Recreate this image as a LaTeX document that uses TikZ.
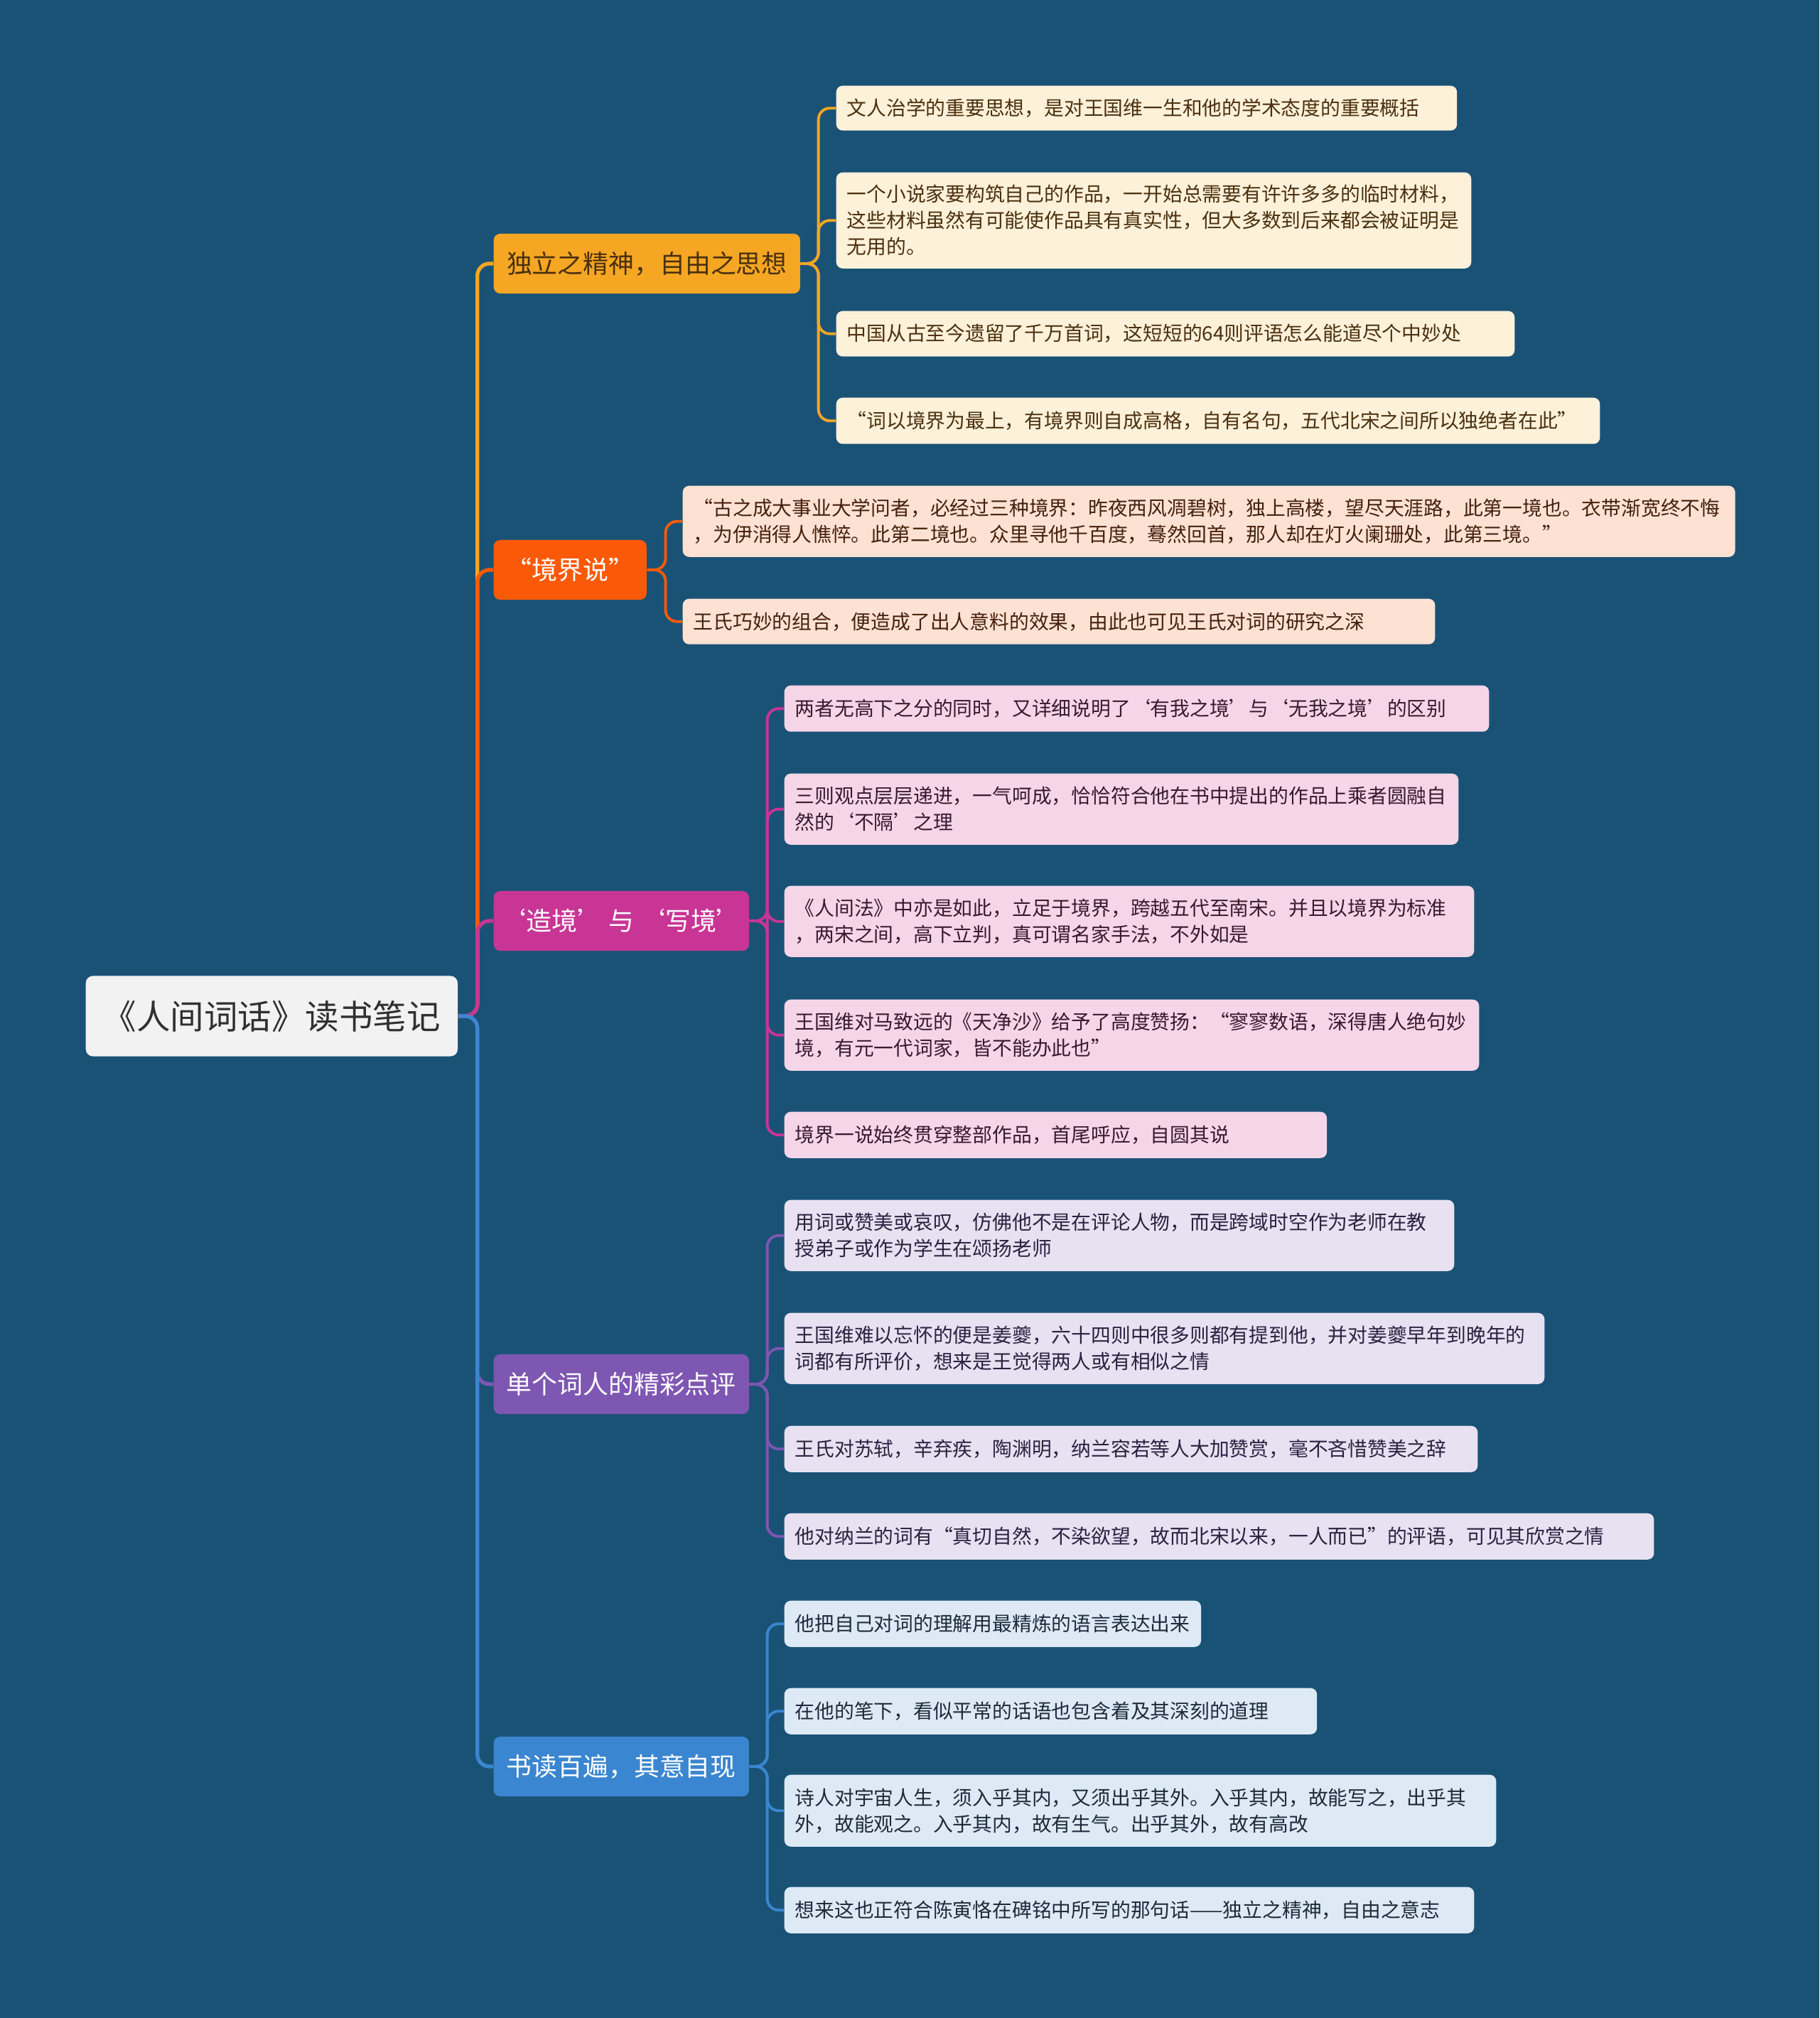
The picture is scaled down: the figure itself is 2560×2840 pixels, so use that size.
\documentclass[tikz,border=0pt]{standalone}
\usepackage{fontspec}
\setmainfont{Noto Sans CJK SC}
\usepackage{tikz}
\definecolor{MapBg}{HTML}{1A5276}
\definecolor{RootFill}{HTML}{F2F2F2}
\definecolor{RootText}{HTML}{303030}
\definecolor{SpiritCol}{HTML}{F5A623}
\definecolor{RealmCol}{HTML}{FA5A08}
\definecolor{CraftCol}{HTML}{C83595}
\definecolor{PoetsCol}{HTML}{7E57B2}
\definecolor{ReadCol}{HTML}{3A86D0}
\definecolor{SpiritLeaf}{HTML}{FEF1DA}
\definecolor{RealmLeaf}{HTML}{FDE2D4}
\definecolor{CraftLeaf}{HTML}{F5D6E9}
\definecolor{PoetsLeaf}{HTML}{E7E1F1}
\definecolor{ReadLeaf}{HTML}{DDEAF6}
\definecolor{SpiritText}{HTML}{4A300E}
\definecolor{RealmText}{HTML}{45200C}
\definecolor{CraftText}{HTML}{3A1830}
\definecolor{PoetsText}{HTML}{2A2240}
\definecolor{ReadText}{HTML}{1C2A3A}

\begin{document}
\begin{tikzpicture}[x=0.01cm,y=-0.01cm,
  rootbox/.style={anchor=west,fill=RootFill,text=RootText,rounded corners=0.1cm,
    minimum width=5.23cm,minimum height=1.13cm,font=\fontsize{13.5pt}{16pt}\selectfont},
  topic/.style={anchor=west,rounded corners=0.09cm,minimum height=0.84cm,inner xsep=0pt,
    font=\fontsize{10.2pt}{12pt}\selectfont},
  leaf/.style={anchor=north west,align=left,rounded corners=0.09cm,inner xsep=0.15cm,
    inner ysep=0pt,font=\fontsize{7.9pt}{10.5pt}\selectfont},
  spiritleaf/.style={leaf,fill=SpiritLeaf,text=SpiritText},
  realmleaf/.style={leaf,fill=RealmLeaf,text=RealmText},
  craftleaf/.style={leaf,fill=CraftLeaf,text=CraftText},
  poetsleaf/.style={leaf,fill=PoetsLeaf,text=PoetsText},
  readleaf/.style={leaf,fill=ReadLeaf,text=ReadText},
  link/.style={rounded corners=0.17cm,line width=1.5pt},
  twig/.style={rounded corners=0.16cm,line width=1.1pt}]
\path[use as bounding box] (0,0) rectangle (2560,2840);
\fill[MapBg] (0,0) rectangle (2560,2840);

% root and main topics
\node[rootbox] (root) at (120,1430) {《人间词话》读书笔记};
\node[topic,fill=SpiritCol,text=SpiritText,minimum width=4.31cm] (spirit) at (694,371) {独立之精神，自由之思想};
\node[topic,fill=RealmCol,text=white,minimum width=2.15cm] (realm) at (694,802) {“境界说”};
\node[topic,fill=CraftCol,text=white,minimum width=3.59cm] (craft) at (694,1296) {‘造境’ 与 ‘写境’};
\node[topic,fill=PoetsCol,text=white,minimum width=3.59cm] (poets) at (694,1948) {单个词人的精彩点评};
\node[topic,fill=ReadCol,text=white,minimum width=3.59cm] (reading) at (694,2486) {书读百遍，其意自现};

% leaves
\node[spiritleaf,text width=8.43cm,minimum height=0.63cm] (spirit1) at (1176,120) {文人治学的重要思想，是对王国维一生和他的学术态度的重要概括};
\node[spiritleaf,text width=8.63cm,minimum height=1.35cm] (spirit2) at (1176,242) {一个小说家要构筑自己的作品，一开始总需要有许许多多的临时材料，\\这些材料虽然有可能使作品具有真实性，但大多数到后来都会被证明是\\无用的。};
\node[spiritleaf,text width=9.24cm,minimum height=0.64cm] (spirit3) at (1176,437) {中国从古至今遗留了千万首词，这短短的64则评语怎么能道尽个中妙处};
\node[spiritleaf,text width=10.44cm,minimum height=0.65cm] (spirit4) at (1176,559) {“词以境界为最上，有境界则自成高格，自有名句，五代北宋之间所以独绝者在此”};

\node[realmleaf,text width=14.50cm,minimum height=1.00cm] (realm1) at (960,683) {“古之成大事业大学问者，必经过三种境界：昨夜西风凋碧树，独上高楼，望尽天涯路，此第一境也。衣带渐宽终不悔\\，为伊消得人憔悴。此第二境也。众里寻他千百度，蓦然回首，那人却在灯火阑珊处，此第三境。”};
\node[realmleaf,text width=10.28cm,minimum height=0.64cm] (realm2) at (960,842) {王氏巧妙的组合，便造成了出人意料的效果，由此也可见王氏对词的研究之深};

\node[craftleaf,text width=9.61cm,minimum height=0.65cm] (craft1) at (1103,964) {两者无高下之分的同时，又详细说明了‘有我之境’与‘无我之境’的区别};
\node[craftleaf,text width=9.18cm,minimum height=1.00cm] (craft2) at (1103,1088) {三则观点层层递进，一气呵成，恰恰符合他在书中提出的作品上乘者圆融自\\然的‘不隔’之理};
\node[craftleaf,text width=9.40cm,minimum height=1.00cm] (craft3) at (1103,1246) {《人间法》中亦是如此，立足于境界，跨越五代至南宋。并且以境界为标准\\，两宋之间，高下立判，真可谓名家手法，不外如是};
\node[craftleaf,text width=9.47cm,minimum height=1.00cm] (craft4) at (1103,1406) {王国维对马致远的《天净沙》给予了高度赞扬：“寥寥数语，深得唐人绝句妙\\境，有元一代词家，皆不能办此也”};
\node[craftleaf,text width=7.33cm,minimum height=0.65cm] (craft5) at (1103,1564) {境界一说始终贯穿整部作品，首尾呼应，自圆其说};

\node[poetsleaf,text width=9.12cm,minimum height=1.00cm] (poets1) at (1103,1688) {用词或赞美或哀叹，仿佛他不是在评论人物，而是跨域时空作为老师在教\\授弟子或作为学生在颂扬老师};
\node[poetsleaf,text width=10.39cm,minimum height=1.00cm] (poets2) at (1103,1847) {王国维难以忘怀的便是姜夔，六十四则中很多则都有提到他，并对姜夔早年到晚年的\\词都有所评价，想来是王觉得两人或有相似之情};
\node[poetsleaf,text width=9.45cm,minimum height=0.65cm] (poets3) at (1103,2006) {王氏对苏轼，辛弃疾，陶渊明，纳兰容若等人大加赞赏，毫不吝惜赞美之辞};
\node[poetsleaf,text width=11.93cm,minimum height=0.65cm] (poets4) at (1103,2129) {他对纳兰的词有“真切自然，不染欲望，故而北宋以来，一人而已”的评语，可见其欣赏之情};

\node[readleaf,text width=5.56cm,minimum height=0.65cm] (reading1) at (1103,2252) {他把自己对词的理解用最精炼的语言表达出来};
\node[readleaf,text width=7.19cm,minimum height=0.65cm] (reading2) at (1103,2375) {在他的笔下，看似平常的话语也包含着及其深刻的道理};
\node[readleaf,text width=9.71cm,minimum height=1.01cm] (reading3) at (1103,2497) {诗人对宇宙人生，须入乎其内，又须出乎其外。入乎其内，故能写之，出乎其\\外，故能观之。入乎其内，故有生气。出乎其外，故有高改};
\node[readleaf,text width=9.40cm,minimum height=0.65cm] (reading4) at (1103,2655) {想来这也正符合陈寅恪在碑铭中所写的那句话——独立之精神，自由之意志};

% root to topics
\draw[link,SpiritCol] (root.east) -- ++(27,0) |- (spirit.west);
\draw[link,RealmCol] (root.east) -- ++(27,0) |- (realm.west);
\draw[link,CraftCol] (root.east) -- ++(27,0) |- (craft.west);
\draw[link,PoetsCol] (root.east) -- ++(27,0) |- (poets.west);
\draw[link,ReadCol] (root.east) -- ++(27,0) |- (reading.west);

% topics to leaves
\draw[twig,SpiritCol] (spirit.east) -- ++(25,0) |- (spirit1.west);
\draw[twig,SpiritCol] (spirit.east) -- ++(25,0) |- (spirit2.west);
\draw[twig,SpiritCol] (spirit.east) -- ++(25,0) |- (spirit3.west);
\draw[twig,SpiritCol] (spirit.east) -- ++(25,0) |- (spirit4.west);
\draw[twig,RealmCol] (realm.east) -- ++(26,0) |- (realm1.west);
\draw[twig,RealmCol] (realm.east) -- ++(26,0) |- (realm2.west);
\draw[twig,CraftCol] (craft.east) -- ++(25,0) |- (craft1.west);
\draw[twig,CraftCol] (craft.east) -- ++(25,0) |- (craft2.west);
\draw[twig,CraftCol] (craft.east) -- ++(25,0) |- (craft3.west);
\draw[twig,CraftCol] (craft.east) -- ++(25,0) |- (craft4.west);
\draw[twig,CraftCol] (craft.east) -- ++(25,0) |- (craft5.west);
\draw[twig,PoetsCol] (poets.east) -- ++(25,0) |- (poets1.west);
\draw[twig,PoetsCol] (poets.east) -- ++(25,0) |- (poets2.west);
\draw[twig,PoetsCol] (poets.east) -- ++(25,0) |- (poets3.west);
\draw[twig,PoetsCol] (poets.east) -- ++(25,0) |- (poets4.west);
\draw[twig,ReadCol] (reading.east) -- ++(25,0) |- (reading1.west);
\draw[twig,ReadCol] (reading.east) -- ++(25,0) |- (reading2.west);
\draw[twig,ReadCol] (reading.east) -- ++(25,0) |- (reading3.west);
\draw[twig,ReadCol] (reading.east) -- ++(25,0) |- (reading4.west);
\end{tikzpicture}
\end{document}
